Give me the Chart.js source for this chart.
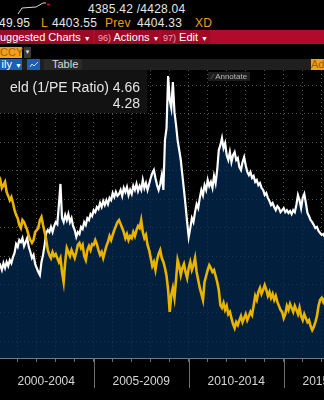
<!DOCTYPE html>
<html>
<head>
<meta charset="utf-8">
<script src="https://cdn.jsdelivr.net/npm/chart.js@4.4.0/dist/chart.umd.min.js"></script>
<style>
  body { margin: 0; width: 324px; height: 400px; background: #000; overflow: hidden; position: relative;
         font-family: "Liberation Sans", Arial, sans-serif; color: #e6e6e6; }
  .a { position: absolute; white-space: nowrap; }
  .t12 { font-size: 12px; line-height: 12px; letter-spacing: .25px; }
  .t11 { font-size: 11px; line-height: 11px; }
  .or { color: #f29b17; }
  .bar { position: absolute; left: 0; width: 324px; }
  .tri { font-size: 7px; }
  #wrap { position: absolute; left: 0; top: 70px; width: 324px; height: 330px; }
  #legendBox { position: absolute; left: 0; top: 70px; width: 147px; height: 43px; background: #121212; }
  .leg { position: absolute; right: 7px; font-size: 14px; line-height: 14px; color: #e4e4e4; white-space: nowrap; }
</style>
</head>
<body>

<!-- quote lines -->
<svg class="a" style="left:16px;top:0" width="40" height="16">
  <polyline points="2,14 6,8 20,7 27,3 30,3" fill="none" stroke="#d8d8d8" stroke-width="1"/>
  <line x1="31" y1="4.5" x2="34" y2="4.5" stroke="#d0102a" stroke-width="1.5"/>
</svg>
<div class="a t12" style="left:88px;top:3px">4385.42 /4428.04</div>
<div class="a t12" style="left:-1px;top:17px">49.95</div>
<div class="a t12 or" style="left:41px;top:17px">L</div>
<div class="a t12" style="left:52px;top:17px">4403.55</div>
<div class="a t12 or" style="left:105px;top:17px">Prev</div>
<div class="a t12" style="left:137px;top:17px">4404.33</div>
<div class="a t12 or" style="left:195px;top:17px">XD</div>

<!-- red menu bar -->
<div class="bar" style="top:30px;height:14px;background:#b00a2c"></div>
<div class="a" style="left:0;top:30px;width:93px;height:14px;background:#9c0a26"></div>
<div class="a" style="left:95px;top:30px;width:64px;height:14px;background:#9c0a26"></div>
<div class="a" style="left:161px;top:30px;width:49px;height:14px;background:#9c0a26"></div>
<div class="a t11" style="left:0;top:32px;color:#fff">uggested Charts <span class="tri">&#9660;</span></div>
<div class="a t11" style="left:98px;top:32px;color:#fff"><span style="color:#f0a6b0;font-size:9px">96)</span> Actions <span class="tri">&#9660;</span></div>
<div class="a t11" style="left:163px;top:32px;color:#fff"><span style="color:#f0a6b0;font-size:9px">97)</span> Edit <span class="tri">&#9660;</span></div>

<!-- currency selector -->
<div class="a t11" style="left:0;top:47px;width:22px;height:11px;background:#f0a21e;color:#a65d00;text-align:right">CCY</div>
<div class="a" style="left:24px;top:47px;width:7px;height:11px;background:#3a3a3a;color:#ddd;font-size:6px;line-height:11px;text-align:center">&#9660;</div>

<!-- toolbar -->
<div class="bar" style="top:59px;height:11px;background:#1f1f1f"></div>
<div class="a t11" style="left:0;top:59px;width:22px;height:11px;background:#1b5fb8;color:#fff;text-align:right">ily <span class="tri">&#9660;</span></div>
<div class="a" style="left:27px;top:59px;width:13px;height:11px;background:#1b5fb8"></div>
<svg class="a" style="left:29px;top:60px" width="10" height="9">
  <polyline points="1,7 3,4 5,6 9,2" fill="none" stroke="#cfe0ff" stroke-width="1"/>
</svg>
<div class="a" style="left:44px;top:59px;width:38px;height:11px;background:#2a2a2a"></div>
<div class="a t11" style="left:52px;top:59px;color:#d8d8d8">Table</div>
<div class="a t11" style="left:311px;top:59px;width:13px;height:11px;background:#f0a21e;color:#a65d00">Ad</div>

<div id="wrap"><canvas id="myChart" width="324" height="330"></canvas></div>

<div id="legendBox">
  <div class="leg" style="top:10px">eld (1/PE Ratio) 4.66</div>
  <div class="leg" style="top:26px">4.28</div>
</div>
<div class="a" style="left:208px;top:72px;width:42px;height:9px;background:#1c1c1c;color:#b8b8b8;font-size:8px;line-height:9px">
  <span style="color:#777;margin-left:4px">&#8260;</span> Annotate</div>

<script>
// monthly closes, first value is Jan 2000
const startYear = 2000;

// S&P 500 earnings yield (1/PE), %
const earningsYield = [
  3.58, 3.68, 3.51, 3.75, 3.58, 3.79, 3.65, 3.86, 3.75, 3.96,
  4.11, 4.42, 4.32, 4.56, 4.49, 4.63, 4.35, 4.49, 4.63, 4.32,
  4.14, 3.93, 4.04, 3.72, 3.58, 3.44, 3.33, 3.79, 4.04, 4.39,
  4.81, 4.91, 4.84, 5.02, 4.84, 5.05, 5.19, 5.12, 5.79, 6.53,
  5.33, 5.19, 5.44, 5.26, 5.47, 5.19, 5.33, 5.05, 4.91, 4.67,
  4.84, 4.77, 5.02, 4.95, 5.19, 5.09, 5.33, 5.26, 5.47, 5.40,
  5.61, 5.54, 5.72, 5.65, 5.86, 5.72, 5.93, 5.79, 5.96, 5.82,
  6.04, 5.96, 6.21, 6.07, 6.25, 6.11, 6.18, 6.32, 6.11, 6.39,
  6.25, 6.42, 6.14, 6.32, 6.18, 6.46, 6.32, 6.53, 6.28, 6.46,
  6.32, 6.67, 6.39, 6.56, 6.32, 6.53, 6.74, 6.91, 7.02, 6.74,
  6.49, 6.32, 6.53, 6.84, 6.32, 8.07, 8.49, 10.32, 9.47, 9.19,
  10.11, 9.05, 8.60, 8.07, 7.72, 7.37, 6.84, 6.32, 5.79, 5.19,
  4.67, 4.98, 5.33, 5.19, 5.54, 5.82, 5.68, 6.04, 6.32, 6.14,
  6.49, 6.32, 6.67, 6.46, 6.60, 6.39, 6.81, 6.56, 7.02, 7.72,
  7.89, 8.14, 7.79, 7.96, 7.54, 7.37, 7.65, 7.30, 7.54, 7.65,
  7.37, 7.44, 7.12, 7.02, 7.30, 7.47, 7.19, 6.95, 6.84, 6.95,
  6.74, 6.81, 6.60, 6.67, 6.49, 6.56, 6.39, 6.32, 6.14, 6.21,
  6.04, 5.93, 5.79, 5.86, 5.72, 5.61, 5.75, 5.68, 5.54, 5.61,
  5.68, 5.54, 5.61, 5.51, 5.58, 5.47, 5.61, 5.54, 5.79, 6.14,
  5.96, 5.68, 6.04, 6.18, 5.86, 5.51, 5.40, 5.26, 5.19, 5.09,
  4.98, 5.02, 4.88, 4.81, 4.74, 4.77, 4.67
];

// US 10Y Treasury yield, %
const bondYield = [
  6.56, 6.67, 6.39, 6.49, 6.60, 6.25, 6.11, 5.96, 6.07, 5.86,
  5.61, 5.44, 5.33, 5.09, 4.98, 5.26, 5.19, 5.05, 4.91, 4.70,
  4.56, 4.46, 4.56, 4.84, 4.91, 4.98, 5.26, 5.37, 5.09, 4.84,
  4.56, 4.21, 4.04, 3.93, 4.14, 4.00, 4.07, 3.93, 3.79, 3.93,
  3.44, 3.09, 3.79, 4.28, 4.14, 4.00, 4.21, 4.07, 3.93, 4.14,
  4.39, 4.46, 4.28, 4.39, 4.00, 3.86, 4.21, 4.35, 4.21, 4.42,
  4.39, 4.56, 4.42, 4.21, 4.04, 4.14, 3.93, 4.14, 4.35, 4.49,
  4.70, 4.56, 4.74, 4.91, 5.05, 5.19, 5.26, 5.12, 4.98, 4.84,
  4.63, 4.77, 4.56, 4.70, 4.63, 4.84, 4.70, 4.91, 5.05, 4.98,
  5.26, 4.84, 4.63, 4.74, 4.39, 4.21, 3.93, 3.65, 3.79, 3.51,
  3.86, 4.07, 4.21, 3.93, 3.79, 3.58, 3.30, 2.81, 2.04, 2.63,
  2.88, 2.53, 3.16, 3.86, 3.65, 3.33, 3.58, 3.72, 3.44, 3.23,
  3.58, 3.79, 3.51, 3.68, 3.93, 3.44, 3.16, 2.88, 2.67, 2.46,
  3.09, 3.30, 3.51, 3.68, 3.58, 3.44, 3.51, 3.30, 3.09, 2.81,
  2.28, 2.18, 2.35, 2.11, 2.25, 1.96, 2.04, 1.82, 1.61, 1.47,
  1.68, 1.58, 1.75, 1.89, 1.68, 1.82, 1.96, 1.75, 1.89, 2.04,
  1.93, 2.25, 2.60, 2.46, 2.74, 2.88, 2.67, 2.81, 2.98, 2.81,
  2.60, 2.74, 2.53, 2.67, 2.46, 2.60, 2.39, 2.25, 2.11, 2.04,
  1.82, 1.96, 2.25, 2.11, 2.32, 2.18, 2.04, 2.25, 2.11, 1.96,
  2.18, 1.89, 1.75, 1.96, 1.82, 1.68, 1.75, 1.54, 1.40, 1.51,
  1.68, 1.89, 2.25, 2.46, 2.53, 2.39, 2.53
];

// x axis: yearly grid, five-year period labels
const yearTicks = [2001, 2002, 2003, 2004, 2005, 2006, 2007, 2008, 2009,
                   2010, 2011, 2012, 2013, 2014, 2015, 2016, 2017];
const periodLabels = ['2000-2004', '2005-2009', '2010-2014', '2015-2019'];
const periodMids = [2002.5, 2007.5, 2012.5, 2017.5];
const periodBreaks = [2005, 2010, 2015];

// visible window
const xMin = 2000.068, xMax = 2017.121;
const yMin = 0.42, yMax = 10.53;

const toPoints = (vals) => vals.map((v, i) => ({ x: startYear + i / 12, y: v }));

Chart.defaults.font.family = '"Liberation Sans", Arial, sans-serif';

const gridColor = 'rgba(125,125,125,0.65)';

// long separators under the axis between the five-year periods
const periodBreaksPlugin = {
    id: 'periodBreaks',
    afterDraw(chart) {
        const ctx = chart.ctx;
        const x = chart.scales.x;
        ctx.save();
        ctx.strokeStyle = '#6e6e6e';
        ctx.lineWidth = 1;
        periodBreaks.forEach(b => {
            const px = Math.round(x.getPixelForValue(b)) + 0.5;
            ctx.beginPath();
            ctx.moveTo(px, x.top);
            ctx.lineTo(px, x.top + 30);
            ctx.stroke();
        });
        ctx.restore();
    }
};

const ctx = document.getElementById('myChart');
const myChart = new Chart(ctx, {
    type: 'line',
    data: {
        datasets: [{
            label: 'US 10Y Yield',
            data: toPoints(bondYield),
            borderColor: '#e8b400',
            borderWidth: 2.6,
            pointRadius: 0,
            fill: false
        }, {
            label: 'Earnings Yield (1/PE Ratio)',
            data: toPoints(earningsYield),
            borderColor: '#ffffff',
            borderWidth: 2.2,
            pointRadius: 0,
            fill: 'start',
            backgroundColor: 'rgba(4,42,84,0.74)'
        }]
    },
    options: {
        responsive: false,
        animation: false,
        layout: { padding: 0 },
        plugins: {
            legend: { display: false },
            tooltip: { enabled: false },
            filler: { drawTime: 'beforeDatasetsDraw' }
        },
        scales: {
            x: {
                type: 'linear',
                min: xMin,
                max: xMax,
                afterBuildTicks: (axis) => {
                    axis.ticks = yearTicks.concat(periodMids)
                        .sort((a, b) => a - b)
                        .map(v => ({ value: v }));
                },
                afterFit: (axis) => {
                    axis.height = 42;
                    axis.paddingLeft = 0;
                    axis.paddingRight = 0;
                },
                ticks: {
                    autoSkip: false,
                    maxRotation: 0,
                    padding: 12,
                    color: '#d6d6d6',
                    font: { size: 12 },
                    callback: (v) => {
                        const k = periodMids.indexOf(v);
                        return k >= 0 ? periodLabels[k] : '';
                    }
                },
                grid: {
                    color: (c) => (c.tick && Number.isInteger(c.tick.value)) ? gridColor : 'transparent',
                    tickColor: (c) => (c.tick && Number.isInteger(c.tick.value)) ? '#6e6e6e' : 'transparent',
                    tickLength: 4,
                    lineWidth: 1
                },
                border: { display: true, color: '#7a7a7a', width: 1, dash: [1, 3] }
            },
            y: {
                type: 'linear',
                position: 'right',
                min: yMin,
                max: yMax,
                afterFit: (axis) => { axis.width = 0; },
                ticks: { display: false, stepSize: 1, includeBounds: false },
                grid: { color: gridColor, drawTicks: false, lineWidth: 1 },
                border: { display: false, dash: [1, 3] }
            }
        }
    },
    plugins: [periodBreaksPlugin]
});
</script>
</body>
</html>
